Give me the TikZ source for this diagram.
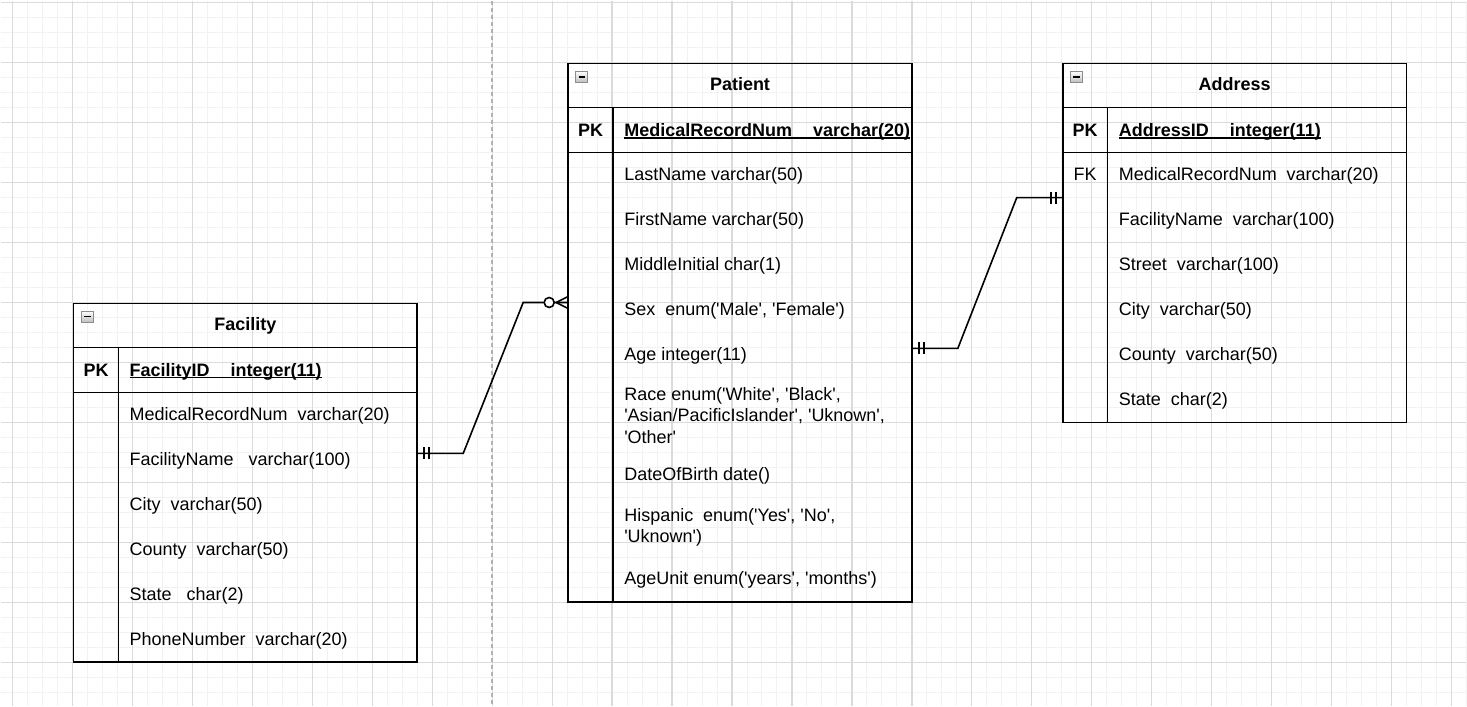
\documentclass[tikz,border=0pt]{standalone}
\usepackage{fontspec}
\setmainfont{Liberation Sans}
\usepackage{tikz}
\usetikzlibrary{positioning}

\newcommand{\sq}{\textquotesingle}
\newcommand{\keyfield}[1]{\setbox0\hbox{#1}\rlap{\rule[-2pt]{\wd0}{1.3pt}}\box0}

\begin{document}
\begin{tikzpicture}[x=1pt,y=-1pt,font=\fontsize{18}{21.5}\selectfont]
\tikzstyle{every node}+=[inner sep=0pt, text=black]
\tikzstyle{tbl}=[draw=black, line width=1.6pt, outer sep=0pt, anchor=north west, minimum width=344pt]
\tikzstyle{fld}=[anchor=base west, align=left]
\tikzstyle{ttl}=[anchor=base, font=\fontsize{18}{21.5}\selectfont\bfseries]
\tikzstyle{rel}=[black, line width=1.6pt]
\tikzstyle{minorgrid}=[black!5, line width=1pt]
\tikzstyle{majorgrid}=[black!14, line width=1.3pt]
\tikzstyle{minusbox}=[draw=black!45, line width=0.8pt, top color=white, bottom color=black!25]
\fill [white] (0,0) rectangle (1467,706);
\foreach \x in {12,27,...,1467} \draw [minorgrid] (\x,0) -- (\x,706);
\foreach \y in {2,17,...,706} \draw [minorgrid] (0,\y) -- (1467,\y);
\foreach \x in {12,72,...,1467} \draw [majorgrid] (\x,0) -- (\x,706);
\foreach \y in {2,62,...,706} \draw [majorgrid] (0,\y) -- (1467,\y);
\draw [black!30, line width=1.5pt, dash pattern=on 4pt off 3pt] (492,0) -- (492,706);
\useasboundingbox (0,0) rectangle (1467,706);
\node [tbl, minimum height=359pt] (facility) at (73,303) {};
\node [tbl, minimum height=539pt] (patient) at (568,63) {};
\node [tbl, minimum height=359pt] (address) at (1063,63) {};
\foreach \t in {facility,patient,address} {
  \draw [rel] ([yshift=-44pt]\t.north west) -- ([yshift=-44pt]\t.north east);
  \draw [rel] ([yshift=-89pt]\t.north west) -- ([yshift=-89pt]\t.north east);
  \draw [rel] ([shift={(45,44)}]\t.north west) -- ([xshift=45pt]\t.south west);
  \draw [minusbox] ([shift={(7.5,7.5)}]\t.north west) rectangle ++(12,11);
  \draw [black, line width=1.8pt] ([shift={(10.5,13)}]\t.north west) -- ++(6.5,0);
}
\node [ttl] (facility-title) at (245,330) {Facility};
\node [ttl] (facility-pk) at (95.5,376) {PK};
\node [fld, font=\fontsize{18}{21.5}\selectfont\bfseries] (facility-id) at (129,376) {\keyfield{FacilityID\hspace{21pt}integer(11)}};
\node [fld] (facility-f1) at (129,420) {MedicalRecordNum\ \ varchar(20)};
\node [fld] (facility-f2) at (129,465) {FacilityName\ \ \ varchar(100)};
\node [fld] (facility-f3) at (129,510) {City\ \ varchar(50)};
\node [fld] (facility-f4) at (129,555) {County\ \ varchar(50)};
\node [fld] (facility-f5) at (129,600) {State\ \ \ char(2)};
\node [fld] (facility-f6) at (129,645) {PhoneNumber\ \ varchar(20)};
\node [ttl] (patient-title) at (740,90) {Patient};
\node [ttl] (patient-pk) at (590.5,136) {PK};
\node [fld, font=\fontsize{18}{21.5}\selectfont\bfseries] (patient-id) at (624,136) {\keyfield{MedicalRecordNum\hspace{21pt}varchar(20)}};
\node [fld] (patient-f1) at (624,180) {LastName varchar(50)};
\node [fld] (patient-f2) at (624,225) {FirstName varchar(50)};
\node [fld] (patient-f3) at (624,270) {MiddleInitial char(1)};
\node [fld] (patient-f4) at (624,315) {Sex\ \ enum(\sq Male\sq, \sq Female\sq)};
\node [fld] (patient-f5) at (624,360) {Age integer(11)};
\node [fld] (patient-f6) at (624,443) {Race enum(\sq White\sq, \sq Black\sq,\\ \sq Asian/PacificIslander\sq, \sq Uknown\sq,\\ \sq Other\sq};
\node [fld] (patient-f7) at (624,480) {DateOfBirth date()};
\node [fld] (patient-f8) at (624,542.5) {Hispanic\ \ enum(\sq Yes\sq, \sq No\sq,\\ \sq Uknown\sq)};
\node [fld] (patient-f9) at (624,584) {AgeUnit enum(\sq years\sq, \sq months\sq)};
\node [ttl] (address-title) at (1235,90) {Address};
\node [ttl] (address-pk) at (1085.5,136) {PK};
\node [fld, font=\fontsize{18}{21.5}\selectfont\bfseries] (address-id) at (1119,136) {\keyfield{AddressID\hspace{21pt}integer(11)}};
\node [anchor=base] (address-fk) at (1085.5,180) {FK};
\node [fld] (address-f1) at (1119,180) {MedicalRecordNum\ \ varchar(20)};
\node [fld] (address-f2) at (1119,225) {FacilityName\ \ varchar(100)};
\node [fld] (address-f3) at (1119,270) {Street\ \ varchar(100)};
\node [fld] (address-f4) at (1119,315) {City\ \ varchar(50)};
\node [fld] (address-f5) at (1119,360) {County\ \ varchar(50)};
\node [fld] (address-f6) at (1119,405) {State\ \ char(2)};
\coordinate (facility-link) at ([yshift=-150pt]facility.north east);
\coordinate (patient-in) at ([yshift=-239pt]patient.north west);
\coordinate (patient-out) at ([yshift=-285pt]patient.north east);
\coordinate (address-in) at ([yshift=-134pt]address.north west);
\draw [rel] (facility-link) -- ++(46,0) -- ++(60,-151) -- (patient-in);
\draw [rel] ([xshift=7pt]facility-link) ++(0,-6) -- ++(0,12);
\draw [rel] ([xshift=12pt]facility-link) ++(0,-6) -- ++(0,12);
\draw [rel, fill=white] ([xshift=-19pt]patient-in) circle (5pt);
\draw [rel] ([yshift=6pt]patient-in) -- ([xshift=-12pt]patient-in) -- ([yshift=-6pt]patient-in);
\draw [rel] (patient-out) -- ++(46,0) -- ++(59,-151) -- (address-in);
\draw [rel] ([xshift=7pt]patient-out) ++(0,-6) -- ++(0,12);
\draw [rel] ([xshift=12pt]patient-out) ++(0,-6) -- ++(0,12);
\draw [rel] ([xshift=-7pt]address-in) ++(0,-6) -- ++(0,12);
\draw [rel] ([xshift=-12pt]address-in) ++(0,-6) -- ++(0,12);
\end{tikzpicture}
\end{document}
